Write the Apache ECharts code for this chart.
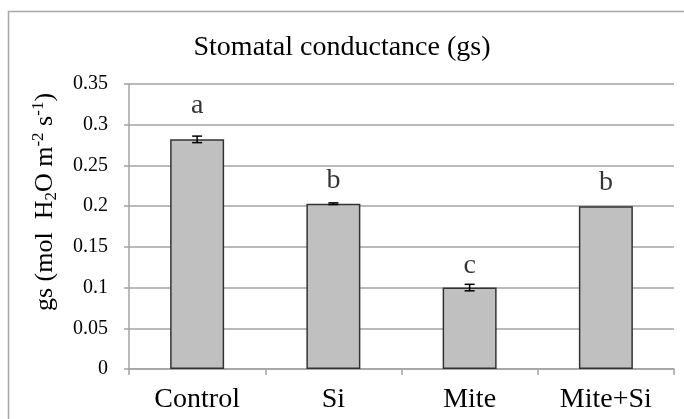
<!DOCTYPE html>
<html>
<head>
<meta charset="utf-8">
<script src="https://cdn.jsdelivr.net/npm/echarts@6/dist/echarts.min.js"></script>
<style>html,body{margin:0;padding:0;background:#fff}#c{width:684px;height:419px}</style>
</head>
<body>
<div id="c"></div>
<script>
const categories = ['Control', 'Si', 'Mite', 'Mite+Si'];
const gsValues = [0.282, 0.203, 0.100, 0.200];
const gsErrors = [0.004, 0.001, 0.004, 0.000];
const letters = ['a', 'b', 'c', 'b'];
const letterLevels = [0.323, 0.231, 0.1265, 0.2285];
const yTicks = [0, 0.05, 0.1, 0.15, 0.2, 0.25, 0.3, 0.35];

const FONT = 'Liberation Serif';
const GRIDC = '#a3a3a3';

const chart = echarts.init(document.getElementById('c'), null, {renderer: 'canvas'});
chart.setOption({
  animation: false,
  backgroundColor: '#fff',
  title: {
    text: 'Stomatal conductance (gs)',
    left: 'center',
    top: 29,
    textStyle: {fontFamily: FONT, fontSize: 28, fontWeight: 'normal', color: '#000'}
  },
  grid: {left: 129, right: 10, top: 84, bottom: 50, containLabel: false},
  xAxis: {
    type: 'category',
    data: categories,
    axisLine: {lineStyle: {color: GRIDC, width: 1.5}},
    axisTick: {show: true, length: 6, alignWithLabel: false, interval: 0, lineStyle: {color: GRIDC, width: 1.5}},
    axisLabel: {fontFamily: FONT, fontSize: 28, color: '#000', margin: 17, interval: 0}
  },
  yAxis: {
    type: 'value',
    min: yTicks[0],
    max: yTicks[yTicks.length - 1],
    interval: yTicks[1] - yTicks[0],
    axisLine: {show: true, lineStyle: {color: GRIDC, width: 1.5}},
    axisTick: {show: true, length: 5, lineStyle: {color: GRIDC, width: 1.5}},
    splitLine: {lineStyle: {color: GRIDC, width: 1.5}},
    axisLabel: {fontFamily: FONT, fontSize: 20, color: '#000', margin: 21}
  },
  graphic: [
    {type: 'rect', silent: true, z: -10,
     shape: {x: 8.5, y: 11.5, width: 720, height: 440},
     style: {fill: 'none', stroke: '#a6a6a6', lineWidth: 1.5}},
    {type: 'text', x: 45, y: 202, rotation: Math.PI / 2, silent: true,
     style: {
       text: '{n|gs (mol  H}{sub|2}{n|O m}{sup|-2}{n| s}{sup|-1}{n|)}',
       align: 'center', verticalAlign: 'middle',
       rich: {
         n: {fontFamily: FONT, fontSize: 26, color: '#000', lineHeight: 30},
         sub: {fontFamily: FONT, fontSize: 17, color: '#000', lineHeight: 30, verticalAlign: 'bottom', padding: [6, 0, 0, 0]},
         sup: {fontFamily: FONT, fontSize: 17, color: '#000', lineHeight: 30, verticalAlign: 'top'}
       }
     }}
  ],
  series: [
    {
      type: 'bar',
      data: gsValues,
      barWidth: 54,
      itemStyle: {color: '#c0c0c0', borderColor: '#333', borderWidth: 1.5},
      z: 2
    },
    {
      type: 'custom',
      data: gsValues.map((v, i) => [i, v, gsErrors[i]]),
      z: 5,
      renderItem: function (params, api) {
        const i = api.value(0), v = api.value(1), e = api.value(2);
        if (!(e > 0)) return {type: 'group', children: []};
        const top = api.coord([i, v + e]);
        const bot = api.coord([i, v - e]);
        const hw = 5;
        const st = {stroke: '#000', lineWidth: 1.5};
        return {type: 'group', children: [
          {type: 'line', shape: {x1: top[0], y1: top[1], x2: bot[0], y2: bot[1]}, style: st},
          {type: 'line', shape: {x1: top[0] - hw, y1: top[1], x2: top[0] + hw, y2: top[1]}, style: st},
          {type: 'line', shape: {x1: bot[0] - hw, y1: bot[1], x2: bot[0] + hw, y2: bot[1]}, style: st}
        ]};
      }
    },
    {
      type: 'scatter',
      data: letterLevels.map((v, i) => [i, v]),
      symbolSize: 0,
      label: {
        show: true, position: 'inside',
        formatter: p => letters[p.dataIndex],
        fontFamily: FONT, fontSize: 28, color: '#000'
      },
      z: 6
    }
  ]
});
</script>
</body>
</html>
